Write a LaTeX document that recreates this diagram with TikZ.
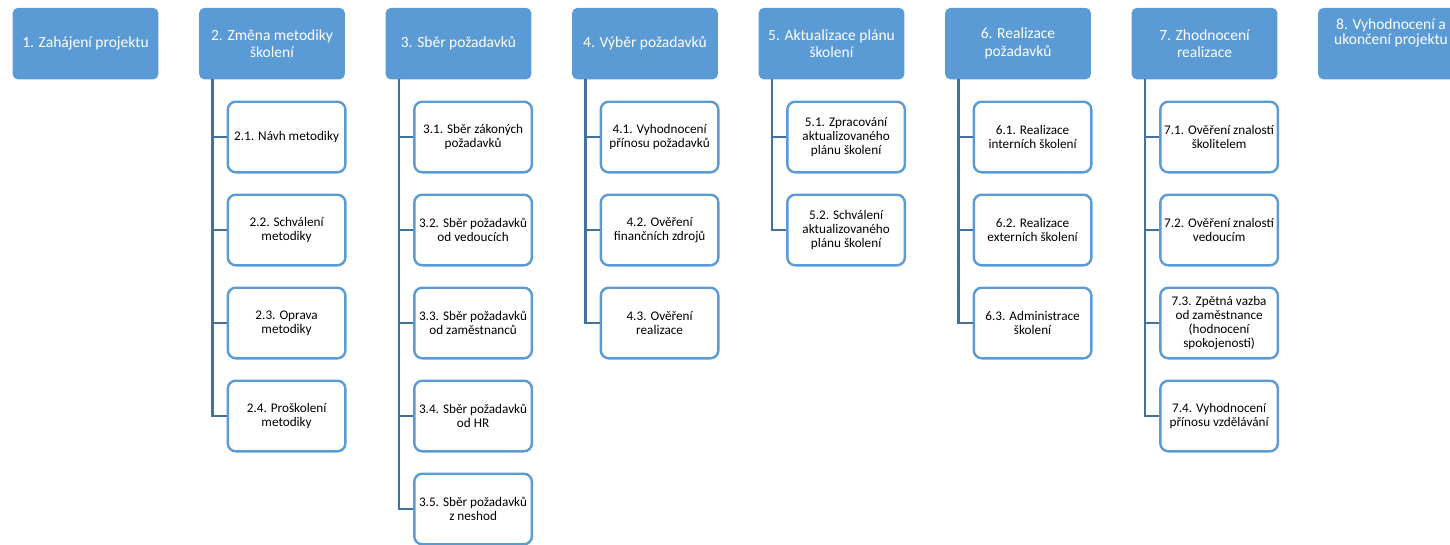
\documentclass[tikz,border=0pt]{standalone}
\usepackage{fontspec}
\setmainfont{Carlito}
\definecolor{phaseblue}{RGB}{91,155,213}
\definecolor{spineblue}{RGB}{65,113,156}
\tikzset{
  phase/.style={rectangle, rounded corners=5pt, fill=phaseblue, text=white,
    minimum width=145.6pt, minimum height=71.3pt, inner sep=0pt, align=center,
    font=\fontsize{15.5}{17.5}\selectfont},
  task/.style={rectangle, rounded corners=8pt, draw=phaseblue, line width=2.4pt,
    fill=white, text=black, minimum width=117.6pt, minimum height=70.6pt,
    inner sep=0pt, align=center, font=\fontsize{13.2}{14}\selectfont},
  spine/.style={draw=spineblue, line width=2.6pt},
}
\begin{document}
\begin{tikzpicture}[x=1pt,y=-1pt]
\useasboundingbox (0,0) rectangle (1450,544);
\clip (0,0) rectangle (1450,544);

% phase boxes (left edges 12.7 + 186.5 k, top row centre y = 43.6)
\node[phase] (p1) at (85.5,43.6)   {1. Zahájení projektu};
\node[phase] (p2) at (272.0,43.6)  {2. Změna metodiky\\školení};
\node[phase] (p3) at (458.5,43.6)  {3. Sběr požadavků};
\node[phase] (p4) at (645.0,43.6)  {4. Výběr požadavků};
\node[phase] (p5) at (831.5,43.6)  {5. Aktualizace plánu\\školení};
\node[phase] (p6) at (1018.0,43.6) {6. Realizace\\požadavků};
\node[phase] (p7) at (1204.5,43.6) {7. Zhodnocení\\realizace};
\node[phase] (p8) at (1391.0,43.6) {};
\node[text=white, align=center, inner sep=0pt,
      font=\fontsize{15.5}{14.6}\selectfont] (p8text) at (1391.0,33)
      {8. Vyhodnocení a\\ukončení projektu};

% task boxes
\node[task] (t21) at (286.6,137) {2.1. Návh metodiky};
\node[task] (t22) at (286.6,230) {2.2. Schválení\\metodiky};
\node[task] (t23) at (286.6,323) {2.3. Oprava\\metodiky};
\node[task] (t24) at (286.6,416) {2.4. Proškolení\\metodiky};

\node[task] (t31) at (473.1,137) {3.1. Sběr zákoných\\požadavků};
\node[task] (t32) at (473.1,230) {3.2. Sběr požadavků\\od vedoucích};
\node[task] (t33) at (473.1,323) {3.3. Sběr požadavků\\od zaměstnanců};
\node[task] (t34) at (473.1,416) {3.4. Sběr požadavků\\od HR};
\node[task] (t35) at (473.1,509) {3.5. Sběr požadavků\\z neshod};

\node[task] (t41) at (659.6,137) {4.1. Vyhodnocení\\přínosu požadavků};
\node[task] (t42) at (659.6,230) {4.2. Ověření\\finančních zdrojů};
\node[task] (t43) at (659.6,323) {4.3. Ověření\\realizace};

\node[task] (t51) at (846.1,137) {5.1. Zpracování\\aktualizovaného\\plánu školení};
\node[task] (t52) at (846.1,230) {5.2. Schválení\\aktualizovaného\\plánu školení};

\node[task] (t61) at (1032.6,137) {6.1. Realizace\\interních školení};
\node[task] (t62) at (1032.6,230) {6.2. Realizace\\externích školení};
\node[task] (t63) at (1032.6,323) {6.3. Administrace\\školení};

\node[task] (t71) at (1219.1,137) {7.1. Ověření znalostí\\školitelem};
\node[task] (t72) at (1219.1,230) {7.2. Ověření znalostí\\vedoucím};
\node[task] (t73) at (1219.1,323) {7.3. Zpětná vazba\\od zaměstnance\\(hodnocení\\spokojenosti)};
\node[task] (t74) at (1219.1,416) {7.4. Vyhodnocení\\přínosu vzdělávání};

% spines hanging from each phase box
\coordinate (s2) at (212.6,79.3);
\coordinate (s3) at (399.1,79.3);
\coordinate (s4) at (585.6,79.3);
\coordinate (s5) at (772.1,79.3);
\coordinate (s6) at (958.6,79.3);
\coordinate (s7) at (1145.1,79.3);

\foreach \s/\list in {s2/{t21,t22,t23,t24},
                      s3/{t31,t32,t33,t34,t35},
                      s4/{t41,t42,t43},
                      s5/{t51,t52},
                      s6/{t61,t62,t63},
                      s7/{t71,t72,t73,t74}}{
  \foreach \t in \list {
    \draw[spine] (\s) |- (\t.west);
  }
}
\end{tikzpicture}
\end{document}
